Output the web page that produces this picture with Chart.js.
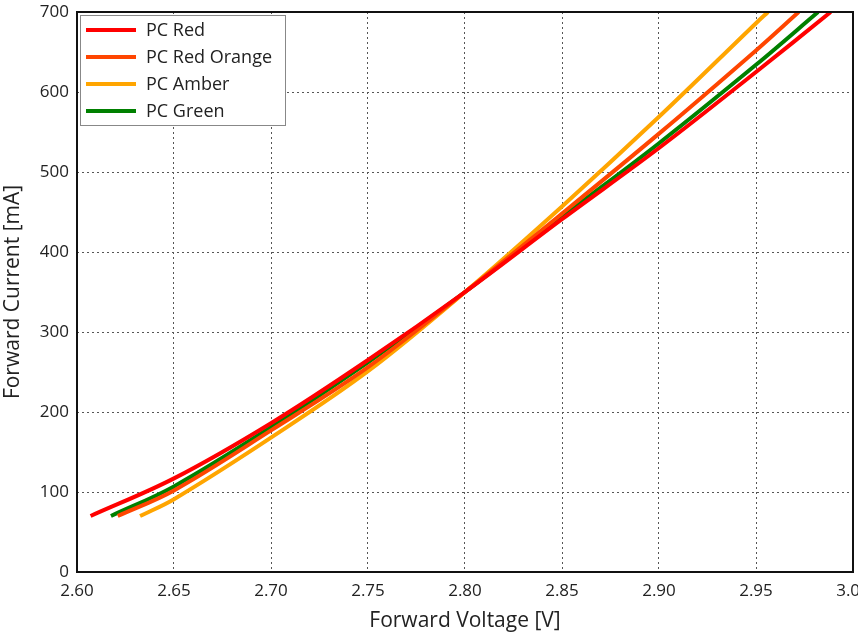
<!DOCTYPE html>
<html>
<head>
<meta charset="utf-8">
<script src="https://cdn.jsdelivr.net/npm/chart.js@4"></script>
<style>
  html, body { margin: 0; padding: 0; background: #fff; }
  #wrap { position: relative; width: 858px; height: 634px; }
</style>
</head>
<body>
<div id="wrap"><canvas id="chart" width="858" height="634"></canvas></div>
<script>
// series data (voltage [V], current [mA])
const seriesNames = ["PC Red", "PC Red Orange", "PC Amber", "PC Green"];
const seriesColors = ["#ff0000", "#ff4500", "#ffa500", "#008000"];

const redV = [2.607, 2.65, 2.70, 2.75, 2.80, 2.85, 2.90, 2.95, 2.9885];
const redI = [70, 117, 186, 265, 350, 441, 530, 625, 700];

const redOrangeV = [2.621, 2.65, 2.70, 2.75, 2.80, 2.85, 2.90, 2.95, 2.972];
const redOrangeI = [70, 102, 177, 256, 350, 448, 548, 652, 700];

const amberV = [2.6325, 2.65, 2.70, 2.75, 2.80, 2.85, 2.90, 2.95, 2.9562];
const amberI = [70, 91, 168, 251, 350, 457, 569, 686, 700];

const greenV = [2.6175, 2.65, 2.70, 2.75, 2.80, 2.85, 2.90, 2.95, 2.982];
const greenI = [70, 107, 181, 262, 350, 444, 536, 634, 700];

const xTicks = [2.60, 2.65, 2.70, 2.75, 2.80, 2.85, 2.90, 2.95, 3.00];
const yTicks = [0, 100, 200, 300, 400, 500, 600, 700];

const allV = [redV, redOrangeV, amberV, greenV];
const allI = [redI, redOrangeI, amberI, greenI];

const FONT = "'Open Sans', 'DejaVu Sans', sans-serif";

function toPoints(vs, is) {
  return vs.map((v, i) => ({ x: v, y: is[i] }));
}

let datasets = seriesNames.map((name, k) => ({
  label: name,
  data: toPoints(allV[k], allI[k]),
  borderColor: seriesColors[k],
  backgroundColor: seriesColors[k],
  borderWidth: 4,
  pointRadius: 0,
  tension: 0.35,
  fill: false
}));

// frame around the plot + legend box inside the plot area
const framePlugin = {
  id: "frame",
  afterDatasetsDraw(chart) {
    const ctx = chart.ctx;
    const a = chart.chartArea;
    ctx.save();
    ctx.strokeStyle = "#111";
    ctx.lineWidth = 2;
    ctx.strokeRect(a.left, a.top, a.right - a.left, a.bottom - a.top);

    // legend
    const bx = 80, by = 15, bw = 205, bh = 110;
    ctx.fillStyle = "#fff";
    ctx.fillRect(bx, by, bw, bh);
    ctx.strokeStyle = "#888";
    ctx.lineWidth = 1;
    ctx.strokeRect(bx + 0.5, by + 0.5, bw, bh);
    ctx.font = "18px " + FONT;
    ctx.textBaseline = "middle";
    chart.data.datasets.forEach((ds, i) => {
      const y = 30 + i * 27;
      ctx.strokeStyle = ds.borderColor;
      ctx.lineWidth = 4;
      ctx.beginPath();
      ctx.moveTo(86, y);
      ctx.lineTo(136, y);
      ctx.stroke();
      ctx.fillStyle = "#222";
      ctx.fillText(ds.label, 146, y + 1);
    });
    ctx.restore();
  }
};

new Chart(document.getElementById("chart"), {
  type: "line",
  data: { datasets: datasets },
  plugins: [framePlugin],
  options: {
    responsive: false,
    animation: false,
    layout: { padding: { left: 0, right: 5, top: 12, bottom: 0 } },
    plugins: {
      legend: { display: false },
      tooltip: { enabled: false }
    },
    scales: {
      x: {
        type: "linear",
        min: 2.60,
        max: 3.00,
        afterBuildTicks: s => { s.ticks = xTicks.map(v => ({ value: v })); },
        afterFit: s => { s.height = 62; s.paddingLeft = 0; s.paddingRight = 0; },
        ticks: {
          color: "#222",
          font: { family: FONT, size: 17 },
          padding: 9,
          maxRotation: 0,
          callback: v => v.toFixed(2)
        },
        grid: {
          color: "#555",
          lineWidth: 1,
          drawTicks: false
        },
        border: { display: false, dash: [2, 3] },
        title: {
          display: true,
          text: "Forward Voltage [V]",
          color: "#222",
          font: { family: FONT, size: 21 },
          padding: { top: 2, bottom: 0 }
        }
      },
      y: {
        type: "linear",
        min: 0,
        max: 700,
        afterBuildTicks: s => { s.ticks = yTicks.map(v => ({ value: v })); },
        afterFit: s => { s.width = 77; s.paddingTop = 0; s.paddingBottom = 0; },
        ticks: {
          color: "#222",
          font: { family: FONT, size: 17 },
          padding: 8
        },
        grid: {
          color: "#555",
          lineWidth: 1,
          drawTicks: false
        },
        border: { display: false, dash: [2, 3] },
        title: {
          display: true,
          text: "Forward Current [mA]",
          color: "#222",
          font: { family: FONT, size: 21 },
          padding: { top: 0, bottom: 2 }
        }
      }
    }
  }
});
</script>
</body>
</html>
